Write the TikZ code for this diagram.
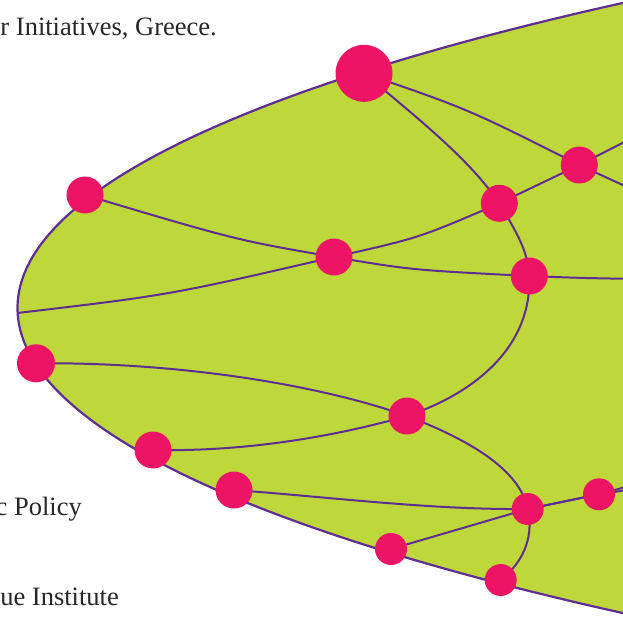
\documentclass[tikz,border=0pt]{standalone}
\usepackage{fontspec}
\setmainfont{Liberation Serif}
\definecolor{lime}{RGB}{190,215,58}
\definecolor{plum}{RGB}{94,46,145}
\definecolor{rose}{RGB}{237,20,102}
\pgfdeclarelayer{background}
\pgfdeclarelayer{edges}
\pgfsetlayers{background,edges,main}
\begin{document}
\begin{tikzpicture}[x=1pt,y=-1pt,
  hub/.style={circle,fill=rose,inner sep=0pt,minimum size=#1},
  hub/.default=37pt,
  link/.style={draw=plum,line width=2pt},
  caption/.style={font=\fontsize{26.5}{31}\selectfont,text=black!85,inner sep=0pt}]
\useasboundingbox (0,0) rectangle (623,618);

\begin{pgfonlayer}{background}
\draw[fill=lime,draw=plum,line width=2.2pt] (2959.5,308) ellipse [x radius=2942pt, y radius=502pt];
\end{pgfonlayer}

% nodes
\node[hub=57pt] (big) at (364,73.3) {};
\node[hub] (n2) at (579.3,165) {};
\node[hub] (n3) at (499.3,203.3) {};
\node[hub] (n4) at (85,195) {};
\node[hub] (n5) at (334,257) {};
\node[hub] (n6) at (529.3,276) {};
\node[hub=38pt] (n7) at (36,363.3) {};
\node[hub] (n8) at (407,416) {};
\node[hub] (n9) at (153,450) {};
\node[hub] (n10) at (234,490) {};
\node[hub=32pt] (n11) at (527.7,509) {};
\node[hub=32pt] (n12) at (599,494.3) {};
\node[hub=32pt] (n13) at (391,549) {};
\node[hub=32pt] (n14) at (500.7,580) {};

\coordinate (b1) at (17.5,313);
\coordinate (o1) at (640,193);
\coordinate (o2) at (640,134);
\coordinate (o3) at (640,279);
\coordinate (o4) at (640,488);
\coordinate (o5) at (640,483);

\begin{pgfonlayer}{edges}
\draw[link] (big.center) .. controls (468,109) .. (n2.center) -- (o1);
\draw[link] (b1) .. controls (170,295) .. (n5.center) .. controls (419,238) .. (n3.center) -- (n2.center) -- (o2);
\draw[link] (n4.center) .. controls (236,240) .. (n5.center) .. controls (411,270) .. (n6.center) .. controls (580,278) .. (o3);
\draw[link] (big.center) .. controls (420,120) and (470,160) .. (n3.center)
  .. controls (515,230) and (528,250) .. (n6.center)
  .. controls (532,350) and (470,395) .. (n8.center);
\draw[link] (n7.center) .. controls (180,362) and (320,385) .. (n8.center);
\draw[link] (n9.center) .. controls (250,452) and (340,435) .. (n8.center);
\draw[link] (n8.center) .. controls (470,440) and (520,470) .. (n11.center);
\draw[link] (n11.center) .. controls (535,540) and (520,565) .. (n14.center);
\draw[link] (n10.center) .. controls (330,497) and (430,510) .. (n11.center) -- (n12.center) -- (o4);
\draw[link] (n13.center) -- (n11.center) -- (n12.center) -- (o5);
\end{pgfonlayer}

% texts
\node[caption,anchor=base east] (t1) at (217,36) {r Initiatives, Greece.};
\node[caption,anchor=base east] (t2) at (82,515) {c Policy};
\node[caption,anchor=base east] (t3) at (119,605) {ue Institute};
\end{tikzpicture}
\end{document}
